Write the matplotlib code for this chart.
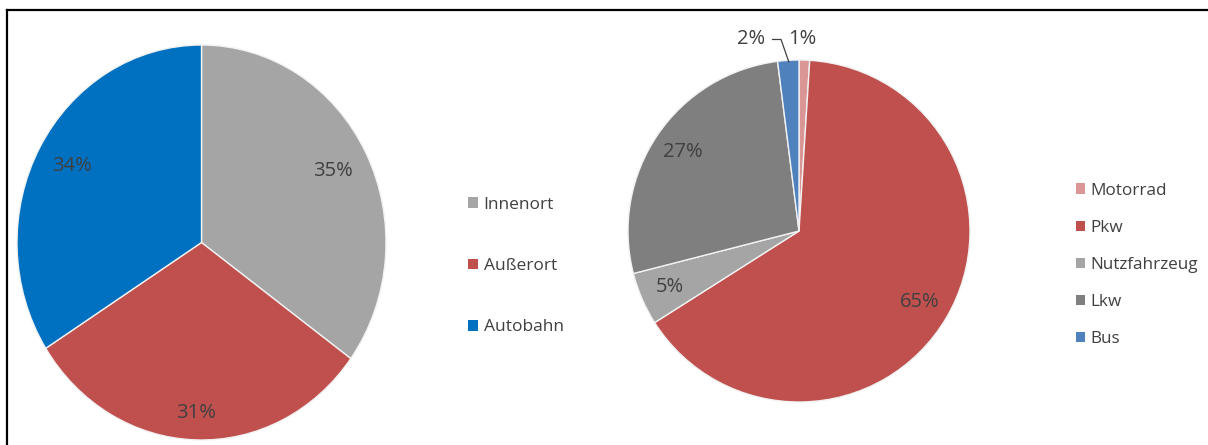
import matplotlib
matplotlib.use("Agg")
from matplotlib import pyplot as plt
from matplotlib.patches import Patch
from matplotlib.lines import Line2D

plt.rcParams['font.family'] = ['Open Sans', 'DejaVu Sans']

# left chart: road type
ort_labels = ['Innenort', 'Außerort', 'Autobahn']
ort_values = [35, 31, 34]
ort_colors = ['#A5A5A5', '#C0504D', '#0070C0']

# right chart: vehicle type
fzg_labels = ['Motorrad', 'Pkw', 'Nutzfahrzeug', 'Lkw', 'Bus']
fzg_values = [1, 65, 5, 27, 2]
fzg_colors = ['#D99694', '#C0504D', '#A5A5A5', '#7F7F7F', '#4F81BD']

W, H = 1208, 445
TXT = '#404040'

fig = plt.figure(figsize=(W / 100, H / 100), dpi=100)


def px_axes(x0, y0, x1, y1):
    # pixel box (top-left origin) -> axes
    return fig.add_axes([x0 / W, 1 - y1 / H, (x1 - x0) / W, (y1 - y0) / H])


# left pie (slightly stretched vertically, as in the source)
ax1 = px_axes(17, 45, 386, 440)
w1, t1, a1 = ax1.pie(ort_values, colors=ort_colors, startangle=90, counterclock=False,
                     autopct='%1.0f%%', pctdistance=0.8,
                     wedgeprops=dict(edgecolor='#F2F2F2', linewidth=1),
                     textprops=dict(color=TXT, fontsize=14.5))
ax1.set_aspect('auto')
ax1.set_xlim(-1, 1)
ax1.set_ylim(-1, 1)
# bottom label sits a bit closer to the rim
x, y = a1[1].get_position()
a1[1].set_position((x * 1.08, y * 1.08))

# right pie
ax2 = px_axes(628, 60, 970, 402)
w2, t2, a2 = ax2.pie(fzg_values, colors=fzg_colors, startangle=90, counterclock=False,
                     autopct='%1.0f%%', pctdistance=0.82,
                     wedgeprops=dict(edgecolor='#F2F2F2', linewidth=1),
                     textprops=dict(color=TXT, fontsize=14.5))
ax2.set_aspect('auto')
ax2.set_xlim(-1, 1)
ax2.set_ylim(-1, 1)

# small slices labelled outside
a2[0].set_position((0.02, 1.12))
a2[4].set_position((-0.28, 1.125))
ax2.plot([-0.155, -0.105, -0.06], [1.12, 1.12, 0.99], color='#404040', lw=0.9,
         clip_on=False)

# legends
h1 = [Patch(facecolor=c, edgecolor='none') for c in ort_colors]
fig.legend(h1, ort_labels, loc='center left', bbox_to_anchor=(468 / W, 1 - 266 / H),
           frameon=False, fontsize=12.5, labelcolor=TXT, handlelength=0.55, handleheight=0.55,
           handletextpad=0.35, labelspacing=2.62, borderpad=0, borderaxespad=0)

h2 = [Patch(facecolor=c, edgecolor='none') for c in fzg_colors]
fig.legend(h2, fzg_labels, loc='center left', bbox_to_anchor=(1076 / W, 1 - 265 / H),
           frameon=False, fontsize=12.3, labelcolor=TXT, handlelength=0.55, handleheight=0.55,
           handletextpad=0.3, labelspacing=1.24, borderpad=0, borderaxespad=0)

# frame (only top and left visible)
fig.add_artist(Line2D([7.5 / W, 1], [1 - 9.5 / H, 1 - 9.5 / H], transform=fig.transFigure,
                      color='black', lw=1.6))
fig.add_artist(Line2D([7.5 / W, 7.5 / W], [0, 1 - 9.5 / H], transform=fig.transFigure,
                      color='black', lw=1.6))

fig.savefig('out.png', dpi=100)
